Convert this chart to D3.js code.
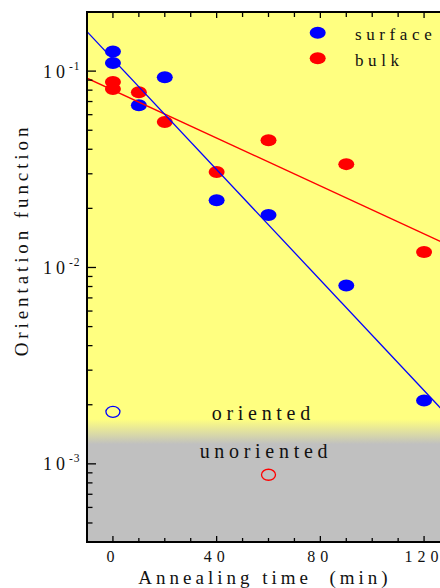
<!DOCTYPE html>
<html><head><meta charset="utf-8">
<script src="https://cdn.jsdelivr.net/npm/d3@7"></script>
<style>
html,body{margin:0;padding:0;background:#fff;}
svg{display:block;}
text{font-family:"Liberation Serif","Times New Roman",serif;fill:#111;}
</style></head>
<body><svg id="c" width="440" height="588"></svg>
<script>
// ---- data ----
const surfaceTimes = [0, 0, 10, 20, 40, 60, 90, 120];
const surfaceValues = [0.126, 0.110, 0.067, 0.093, 0.022, 0.0185, 0.0081, 0.0021];
const bulkTimes = [0, 0, 10, 20, 40, 60, 90, 120];
const bulkValues = [0.088, 0.081, 0.078, 0.055, 0.0306, 0.0445, 0.0336, 0.0120];
// fitted exponential decays: value = a * 10^(b * t)
const surfaceFit = [0.115, -0.01406];
const bulkFit = [0.080, -0.0061];
// open markers: [time, value]
const surfaceUnoriented = [0, 0.00184];
const bulkUnoriented = [60, 0.00088];
// oriented / unoriented boundary band (values)
const boundaryBand = [1.69e-3, 1.26e-3];
const xTicks = [0, 40, 80, 120];
const yTickExps = [-1, -2, -3];
const legendLabels = ["surface", "bulk"];
const xDomain = [-10, 130];
const yDomain = [4e-4, 0.2];

// ---- layout ----
const L = 87, T = 12, B = 542, R = 450;
const svg = d3.select("#c");
const x = d3.scaleLinear().domain(xDomain).range([L, R]);
const y = d3.scaleLog().domain(yDomain).range([B, T]);

const defs = svg.append("defs");
const grad = defs.append("linearGradient").attr("id", "bg")
  .attr("gradientUnits", "userSpaceOnUse")
  .attr("x1", 0).attr("x2", 0)
  .attr("y1", y(boundaryBand[0])).attr("y2", y(boundaryBand[1]));
grad.append("stop").attr("offset", 0).attr("stop-color", "#FFFF80");
grad.append("stop").attr("offset", 1).attr("stop-color", "#C0C0C0");
defs.append("clipPath").attr("id", "clip").append("rect")
  .attr("x", L).attr("y", T).attr("width", R - L).attr("height", B - T);

svg.append("rect").attr("x", L).attr("y", T).attr("width", R - L).attr("height", B - T)
  .attr("fill", "url(#bg)");

// fit lines
const plot = svg.append("g").attr("clip-path", "url(#clip)");
const fitLine = (fit) => d3.line()
  .x(d => x(d)).y(d => y(fit[0] * Math.pow(10, fit[1] * d)))(xDomain);

// points
plot.selectAll(".s").data(d3.zip(surfaceTimes, surfaceValues)).join("ellipse")
  .attr("cx", d => x(d[0])).attr("cy", d => y(d[1])).attr("rx", 8).attr("ry", 6).attr("fill", "#0000FF");
plot.selectAll(".b").data(d3.zip(bulkTimes, bulkValues)).join("ellipse")
  .attr("cx", d => x(d[0])).attr("cy", d => y(d[1])).attr("rx", 8).attr("ry", 6).attr("fill", "#FF0000");

plot.append("path").attr("d", fitLine(bulkFit)).attr("stroke", "#FF0000").attr("fill", "none")
  .attr("stroke-width", 1.4);
plot.append("path").attr("d", fitLine(surfaceFit)).attr("stroke", "#0000FF").attr("fill", "none")
  .attr("stroke-width", 1.3);

plot.append("ellipse").attr("cx", x(surfaceUnoriented[0])).attr("cy", y(surfaceUnoriented[1]))
  .attr("rx", 7).attr("ry", 5.5).attr("fill", "none").attr("stroke", "#0000FF").attr("stroke-width", 1.3);
plot.append("ellipse").attr("cx", x(bulkUnoriented[0])).attr("cy", y(bulkUnoriented[1]))
  .attr("rx", 7).attr("ry", 5.5).attr("fill", "none").attr("stroke", "#FF0000").attr("stroke-width", 1.3);

// region labels
svg.append("text").attr("x", x(58)).attr("y", y(1.67e-3)).attr("text-anchor", "middle")
  .attr("font-size", 20).attr("letter-spacing", 4.7).text("oriented");
svg.append("text").attr("x", x(59)).attr("y", y(1.07e-3)).attr("text-anchor", "middle")
  .attr("font-size", 20).attr("letter-spacing", 4.7).text("unoriented");

// legend
const legColors = ["#0000FF", "#FF0000"];
legendLabels.forEach((lab, i) => {
  const cy = 32.7 + i * 25.6;
  svg.append("ellipse").attr("cx", 317.7).attr("cy", cy).attr("rx", 8).attr("ry", 6).attr("fill", legColors[i]);
  svg.append("text").attr("x", 355).attr("y", cy + 7.5).attr("font-size", 17).attr("letter-spacing", 4.6).text(lab);
});

// axes ticks
const ax = svg.append("g").attr("stroke", "#000");
const minorX = d3.range(0, 131, 10);
minorX.forEach(t => {
  const major = t % 40 === 0;
  ax.append("line").attr("x1", x(t)).attr("x2", x(t)).attr("y1", B).attr("y2", B - (major ? 6 : 4)).attr("stroke-width", 1.3);
  ax.append("line").attr("x1", x(t)).attr("x2", x(t)).attr("y1", T).attr("y2", T + (major ? 6 : 5)).attr("stroke-width", 1.3);
});
const yMinor = [];
[-4, -3, -2, -1].forEach(e => { for (let m = 1; m <= 9; m++) yMinor.push(m * Math.pow(10, e)); });
yMinor.filter(v => v >= yDomain[0] && v <= yDomain[1]).forEach(v => {
  const major = Math.abs(Math.log10(v) - Math.round(Math.log10(v))) < 1e-9;
  ax.append("line").attr("x1", L).attr("x2", L + (major ? 9 : 5.5)).attr("y1", y(v)).attr("y2", y(v)).attr("stroke-width", 1.3);
});
// frame lines
ax.append("line").attr("x1", L).attr("x2", L).attr("y1", T - 1).attr("y2", B + 1).attr("stroke-width", 2);
ax.append("line").attr("x1", L - 1).attr("x2", 440).attr("y1", B).attr("y2", B).attr("stroke-width", 2);
ax.append("line").attr("x1", L - 1).attr("x2", 440).attr("y1", T).attr("y2", T).attr("stroke-width", 2);

// tick labels
xTicks.forEach(t => {
  svg.append("text").attr("x", x(t)).attr("y", 561.5).attr("text-anchor", "middle")
    .attr("font-size", 16).attr("letter-spacing", 5).text(t);
});
yTickExps.forEach(e => {
  const tx = svg.append("text").attr("x", 43).attr("y", y(Math.pow(10, e)) + 6.5).attr("font-size", 18);
  tx.append("tspan").attr("letter-spacing", 4).text("10");
  tx.append("tspan").attr("font-size", 11.5).attr("dy", -8).attr("letter-spacing", 1).text("-" + (-e));
});

// axis titles
svg.append("text").attr("x", 265).attr("y", 584).attr("text-anchor", "middle")
  .attr("font-size", 19).attr("letter-spacing", 4).attr("xml:space", "preserve")
  .style("white-space", "pre").text("Annealing time  (min)");
svg.append("text").attr("transform", "translate(28,240) rotate(-90)").attr("text-anchor", "middle")
  .attr("font-size", 19).attr("letter-spacing", 3.9).text("Orientation function");
</script>
</body></html>
